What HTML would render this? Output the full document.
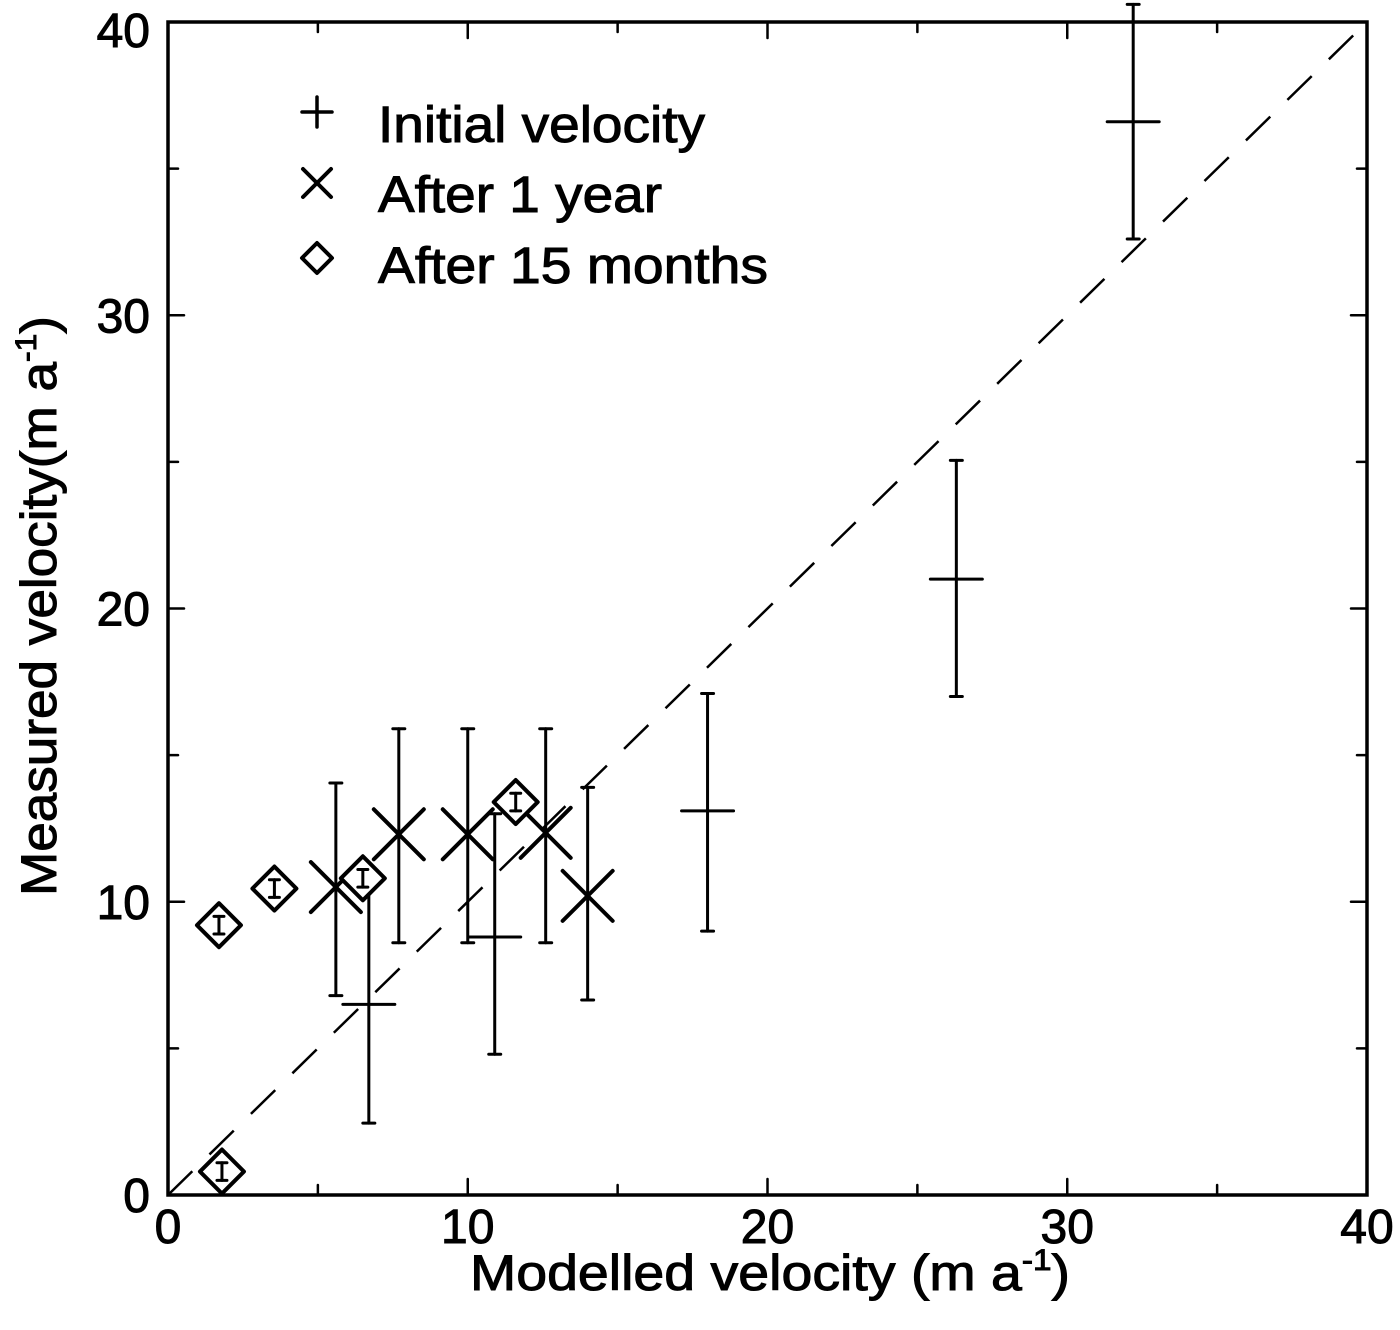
<!DOCTYPE html>
<html><head><meta charset="utf-8">
<style>
html,body{margin:0;padding:0;background:#fff;}
svg{display:block;font-family:"Liberation Sans",Arial,sans-serif;}
text{stroke:#000;stroke-width:1;}
</style></head>
<body>
<svg id="chart" width="1400" height="1330" viewBox="0 0 1400 1330" xmlns="http://www.w3.org/2000/svg"></svg>
<script>
// ---- data ----
const xTicks = [0, 10, 20, 30, 40];
const yTicks = [0, 10, 20, 30, 40];
const initX = [6.7, 10.9, 18.0, 26.3, 32.2];
const initY = [6.5, 8.8, 13.1, 21.0, 36.6];
const initLo = [2.45, 4.8, 9.0, 17.0, 32.6];
const initHi = [10.5, 13.0, 17.1, 25.05, 40.6];
const yearX = [5.6, 7.7, 10.0, 12.6, 14.0];
const yearY = [10.5, 12.3, 12.3, 12.35, 10.2];
const yearLo = [6.8, 8.6, 8.6, 8.6, 6.65];
const yearHi = [14.05, 15.9, 15.9, 15.9, 13.9];
const monX = [1.7, 3.55, 6.5, 11.6, 1.8];
const monY = [9.2, 10.45, 10.8, 13.4, 0.8];
const monErr = [0.3, 0.3, 0.3, 0.3, 0.3];

const L = 168, R = 1367, T = 22, B = 1195;
const sx = v => L + (v / 40) * (R - L);
const sy = v => B - (v / 40) * (B - T);
const svg = document.getElementById('chart');
const NS = 'http://www.w3.org/2000/svg';
function mk(tag, attrs, parent) {
  const e = document.createElementNS(NS, tag);
  for (const k in attrs) e.setAttribute(k, attrs[k]);
  (parent || svg).appendChild(e);
  return e;
}
function line(x1, y1, x2, y2, w, p) {
  return mk('line', {x1, y1, x2, y2, stroke: '#000', 'stroke-width': w || 3, 'stroke-linecap': 'round'}, p);
}

const dl = mk('line', {x1: sx(0), y1: sy(0), x2: sx(40), y2: sy(40), stroke: '#000', 'stroke-width': 2.5, 'stroke-dasharray': '34 24'});



const fr = mk('rect', {x: L, y: T, width: R - L, height: B - T, fill: 'none', stroke: '#000', 'stroke-width': 3.5});



const tg = mk('g', {});


for (let v = 0; v <= 40; v += 5) {
  const len = v % 10 === 0 ? 16 : 10;
  line(sx(v), B, sx(v), B - len, 2.5, tg);
  line(sx(v), T, sx(v), T + len, 2.5, tg);
  line(L, sy(v), L + len, sy(v), 2.5, tg);
  line(R, sy(v), R - len, sy(v), 2.5, tg);
}
xTicks.forEach(v => {
  const t = mk('text', {x: sx(v), y: 1243, 'text-anchor': 'middle', 'font-size': 48});
  t.textContent = v;
  
  
});
yTicks.forEach(v => {
  const t = mk('text', {x: 150, y: sy(v) + 17 + (v === 40 ? 8 : 0), 'text-anchor': 'end', 'font-size': 48});
  t.textContent = v;
  
  
});

const xt = mk('text', {x: 470, y: 1290, 'font-size': 50, textLength: 600, lengthAdjust: 'spacingAndGlyphs'});
xt.innerHTML = 'Modelled velocity (m a<tspan dy="-20" font-size="30">-1</tspan><tspan dy="20">)</tspan>';


const yt = mk('text', {x: 0, y: 0, 'font-size': 50, textLength: 580, lengthAdjust: 'spacingAndGlyphs', transform: 'translate(56,896) rotate(-90)'});
yt.innerHTML = 'Measured velocity(m a<tspan dy="-20" font-size="30">-1</tspan><tspan dy="20">)</tspan>';



function plusMark(cx, cy, h, p) { line(cx - h, cy, cx + h, cy, 3.5, p); line(cx, cy - h, cx, cy + h, 3.5, p); }
function xMark(cx, cy, h, p) { line(cx - h, cy - h, cx + h, cy + h, 4, p); line(cx - h, cy + h, cx + h, cy - h, 4, p); }
function diamond(cx, cy, h, p) {
  mk('polygon', {points: `${cx},${cy - h} ${cx + h},${cy} ${cx},${cy + h} ${cx - h},${cy}`, fill: 'none', stroke: '#000', 'stroke-width': 4, 'stroke-linejoin': 'round'}, p);
}
function errBar(cx, lo, hi, p) {
  line(cx, sy(lo), cx, sy(hi), 3, p);
  line(cx - 6, sy(lo), cx + 6, sy(lo), 3, p);
  line(cx - 6, sy(hi), cx + 6, sy(hi), 3, p);
}

initX.forEach((x, i) => {
  const g = mk('g', {});
  
  
  errBar(sx(x), initLo[i], initHi[i], g);
  line(sx(x) - 26, sy(initY[i]), sx(x) + 26, sy(initY[i]), 3, g);
});
yearX.forEach((x, i) => {
  const g = mk('g', {});
  
  
  errBar(sx(x), yearLo[i], yearHi[i], g);
  xMark(sx(x), sy(yearY[i]), 25, g);
});
monX.forEach((x, i) => {
  const g = mk('g', {});
  
  
  const cx = sx(x), cy = sy(monY[i]);
  mk('polygon', {points: `${cx},${cy - 22} ${cx + 22},${cy} ${cx},${cy + 22} ${cx - 22},${cy}`, fill: '#fff', stroke: 'none'}, g);
  diamond(cx, cy, 22, g);
  const lo = sy(monY[i] - monErr[i]), hi = sy(monY[i] + monErr[i]);
  line(cx, lo, cx, hi, 3, g);
  line(cx - 5, lo, cx + 5, lo, 3, g);
  line(cx - 5, hi, cx + 5, hi, 3, g);
});

const lg = mk('g', {});


const labels = ['Initial velocity', 'After 1 year', 'After 15 months'];
const labelW = [327, 284, 390];
const baseY = [142, 212, 283];
const markY = [112, 183, 258];
labels.forEach((lab, i) => {
  const g = mk('g', {}, lg);
  
  
  if (i === 0) plusMark(317, markY[i], 15, g);
  else if (i === 1) xMark(317, markY[i], 14, g);
  else diamond(317, markY[i], 15, g);
  const t = mk('text', {x: 378, y: baseY[i], 'font-size': 51, textLength: labelW[i], lengthAdjust: 'spacingAndGlyphs'}, g);
  t.textContent = lab;
});
</script>
</body></html>
